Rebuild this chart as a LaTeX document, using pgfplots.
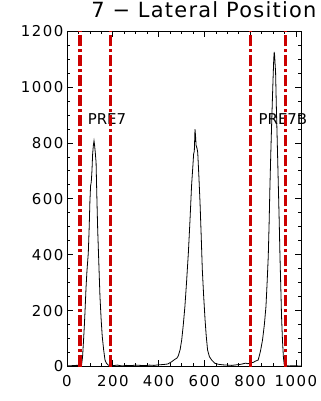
\documentclass[border=0pt]{standalone}
\usepackage{pgfplots}
\pgfplotsset{compat=1.18}
\usepackage{fontspec}
\setmainfont{DejaVu Sans}
\newfontfamily\tickfont[LetterSpace=10]{DejaVu Sans}
\newfontfamily\titlefont[LetterSpace=6]{DejaVu Sans}
\definecolor{idlred}{RGB}{204,0,0}
\tikzset{redline/.style={idlred, no markers, line width=3.5bp, dash pattern=on 11bp off 3bp on 3bp off 3bp}}
\begin{document}
\begin{tikzpicture}
\useasboundingbox (0,0) rectangle (321bp,401bp);
\begin{axis}[
  at={(67bp,34.5bp)}, anchor=south west,
  scale only axis, width=234bp, height=335.5bp,
  xmin=0, xmax=1022, ymin=0, ymax=1200,
  xtick={0,200,...,1000}, ytick={0,200,...,1200},
  minor x tick num=3, minor y tick num=3,
  tick align=inside,
  major tick length=6bp, minor tick length=3bp,
  tick style={black, line width=0.6bp},
  axis line style={line width=0.8bp},
  ticklabel style={font=\tickfont\fontsize{15}{15}\selectfont},
  xticklabel style={yshift=-5bp},
  /pgf/number format/assume math mode=true,
  /pgf/number format/1000 sep={},
  clip mode=individual,
  title={7 − Lateral Position},
  title style={at={(0.585,1)}, anchor=base, yshift=8bp, font=\titlefont\fontsize{21}{21}\selectfont},
]
\addplot[black, no markers, solid, line width=0.8bp] coordinates {
(0,2) (20,3) (40,4) (55,4) (60,6) (64,8) (68,35) (72,90) (76,150) (79,203)
(83,280) (87,340) (93,406) (97,500) (100,590) (103,646) (106,660) (109,700)
(112,760) (115,790) (118,807) (120,795) (123,770) (127,730) (130,620) (134,490)
(139,370) (144,250) (149,170) (154,107) (160,60) (166,23) (172,12) (180,5)
(190,4) (200,3) (220,5) (240,2) (260,4) (280,3) (300,5) (320,4) (340,3)
(360,5) (380,4) (400,6) (420,7) (440,9) (457,17) (470,25) (480,30) (486,38)
(494,60) (501,95) (508,150) (515,215) (522,300) (530,406) (537,520) (544,646)
(550,720) (553,760) (556,770) (558,820) (559,849) (561,830) (564,790) (568,780)
(571,765) (576,680) (581,586) (586,470) (591,346) (597,250) (603,167) (608,110)
(614,59) (622,35) (632,23) (645,12) (660,8) (680,6) (700,5) (720,4) (740,6)
(760,8) (780,12) (790,10) (814,15) (825,20) (835,23) (845,55) (854,95)
(862,150) (869,215) (874,300) (879,394) (883,520) (886,634) (890,760) (894,873)
(898,980) (901,1053) (903,1100) (905,1125) (907,1110) (909,1080) (911,1053)
(914,940) (918,813) (922,680) (927,514) (930,400) (934,275) (937,180) (941,95)
(945,35) (949,5) (955,3) (970,2) (990,3) (1010,2) (1022,2)
};
\node[anchor=west, inner sep=0, font=\fontsize{15}{15}\selectfont] at (axis cs:90,885) {PRE7};
\node[anchor=west, inner sep=0, font=\fontsize{15}{15}\selectfont] at (axis cs:836,885) {PRE7B};
\addplot[redline] coordinates {(57,0) (57,1200)};
\addplot[redline] coordinates {(191,0) (191,1200)};
\addplot[redline] coordinates {(801,0) (801,1200)};
\addplot[redline] coordinates {(955,0) (955,1200)};
\end{axis}
\end{tikzpicture}
\end{document}
